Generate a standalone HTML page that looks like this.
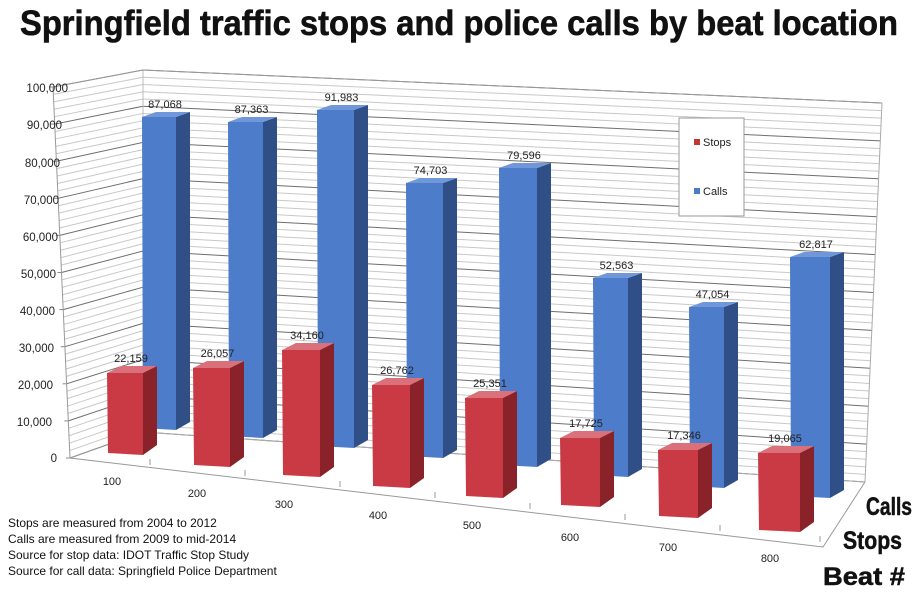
<!DOCTYPE html>
<html><head><meta charset="utf-8"><style>
html,body{margin:0;padding:0;background:#fff;}
svg{display:block;font-family:"Liberation Sans",sans-serif;}
</style></head><body>
<svg width="921" height="597" viewBox="0 0 921 597" xmlns="http://www.w3.org/2000/svg">
<rect width="921" height="597" fill="#fff"/>
<text x="459" y="35" text-anchor="middle" font-family="'Liberation Sans Narrow','Liberation Sans',sans-serif" font-weight="bold" font-size="35" textLength="878" lengthAdjust="spacingAndGlyphs" fill="#111" stroke="#111" stroke-width="0.6">Springfield traffic stops and police calls by beat location</text>
<g id="grid" stroke-width="1"></g>
<polyline points="53,87 143,70 882,103" fill="none" stroke="#999"/>
<polyline points="53,87 70,458 823,547 865,482" fill="none" stroke="#999"/>
<line x1="70" y1="458" x2="143" y2="432" stroke="#999"/>
<line x1="143" y1="432" x2="865" y2="482" stroke="#aaa"/>
<line x1="865" y1="482" x2="882" y2="103" stroke="#aaa"/>
<g id="bars"></g>
<g font-size="11.5" fill="#222" text-anchor="end">
<text x="68" y="92">100,000</text><text x="62" y="129">90,000</text><text x="60" y="167">80,000</text><text x="59" y="204">70,000</text><text x="58" y="241">60,000</text><text x="56" y="278">50,000</text><text x="55" y="315">40,000</text><text x="54" y="352">30,000</text><text x="53" y="389">20,000</text><text x="52" y="426">10,000</text><text x="57" y="462">0</text>
</g>
<g font-size="11" fill="#222" text-anchor="middle">
<text x="112" y="485">100</text><text x="197" y="497">200</text><text x="284" y="508">300</text><text x="378" y="519">400</text><text x="472" y="529">500</text><text x="570" y="541">600</text><text x="668" y="551">700</text><text x="770" y="562">800</text>
</g>
<rect x="679" y="118" width="65" height="98" fill="#fff" stroke="#999"/>
<rect x="694" y="139" width="6" height="6" fill="#c0392f"/><text x="703" y="146" font-size="11" fill="#222">Stops</text>
<rect x="694" y="188" width="6" height="6" fill="#4a7bc8"/><text x="703" y="195" font-size="11" fill="#222">Calls</text>
<g font-size="12" fill="#111">
<text x="8" y="527">Stops are measured from 2004 to 2012</text>
<text x="8" y="543">Calls are measured from 2009 to mid-2014</text>
<text x="8" y="559">Source for stop data: IDOT Traffic Stop Study</text>
<text x="8" y="575">Source for call data: Springfield Police Department</text>
</g>
<g font-family="'Liberation Sans Narrow','Liberation Sans',sans-serif" font-weight="bold" font-size="25" fill="#111" stroke="#111" stroke-width="0.5">
<text x="866" y="515" textLength="46" lengthAdjust="spacingAndGlyphs">Calls</text>
<text x="843" y="549" textLength="59" lengthAdjust="spacingAndGlyphs">Stops</text>
<text x="823" y="585" textLength="82" lengthAdjust="spacingAndGlyphs">Beat #</text>
</g>
<script>
(function(){
var ns="http://www.w3.org/2000/svg",g=document.getElementById('grid'),b=document.getElementById('bars');
function el(p,t,a){var e=document.createElementNS(ns,t);for(var k in a)e.setAttribute(k,a[k]);p.appendChild(e);return e;}
for(var v=0;v<=100000;v+=2000){var f=v/1e5,major=v%10000==0;
 var fx=70-17*f,fy=458-371*f,lx=143,ly=432-362*f,rx=865+17*f,ry=482-379*f;
 var c=major?'#6e6e6e':'#c8c8c8';
 el(g,'line',{x1:fx,y1:fy,x2:lx,y2:ly,stroke:c});
 el(g,'line',{x1:lx,y1:ly,x2:rx,y2:ry,stroke:c});
 if(major){el(g,'line',{x1:fx-4,y1:fy,x2:fx,y2:fy,stroke:'#888'});}
}
el(g,'line',{x1:143,y1:70,x2:143,y2:432,stroke:'#bbb'});
var ticks=[[150,463],[245,474],[340,485],[435,496],[530,507],[625,518],[720,529],[820,540]];
var calls=[[142,176,117,430,'87,068'],[228,263,122,438,'87,363'],[317,354,110,448,'91,983'],[406,443,183,458,'74,703'],[499,537,168,467,'79,596'],[593,628,278,477,'52,563'],[689,724,307,488,'47,054'],[790,830,257,498,'62,817']];
var stops=[[107,143,373,455,'22,159'],[193,230,368,467,'26,057'],[282,320,350,477,'34,160'],[372,410,385,488,'26,762'],[465,503,398,498,'25,351'],[560,600,438,507,'17,725'],[658,698,450,518,'17,346'],[758,800,453,532,'19,065']];
function bar(d,front,side,top,dx,dy){
 var x0=d[0],x1=d[1],t=d[2],bt=d[3];
 el(b,'polygon',{points:[x1,t,x1+dx,t-dy,x1+dx,bt-dy-3,x1,bt].join(' '),fill:side});
 el(b,'polygon',{points:[x0,t,x0+dx,t-dy,x1+dx,t-dy,x1,t].join(' '),fill:top});
 el(b,'polygon',{points:[x0,t,x1,t,x1,bt,x0+1,bt-2].join(' '),fill:front});
 var tx=el(b,'text',{x:(x0+x1)/2+6,y:t-dy-4,'font-size':11,fill:'#222','text-anchor':'middle'});tx.textContent=d[4];
}
calls.forEach(function(d){bar(d,'#4d7ccb','#2f4f86','#6f97d9',14,5);});
stops.forEach(function(d){bar(d,'#c93a45','#8a2229','#d9707a',14,7);});
ticks.forEach(function(t){el(b,'line',{x1:t[0],y1:t[1]-4,x2:t[0],y2:t[1]+2,stroke:'#999'});});
})();
</script>
</svg>
</body></html>
